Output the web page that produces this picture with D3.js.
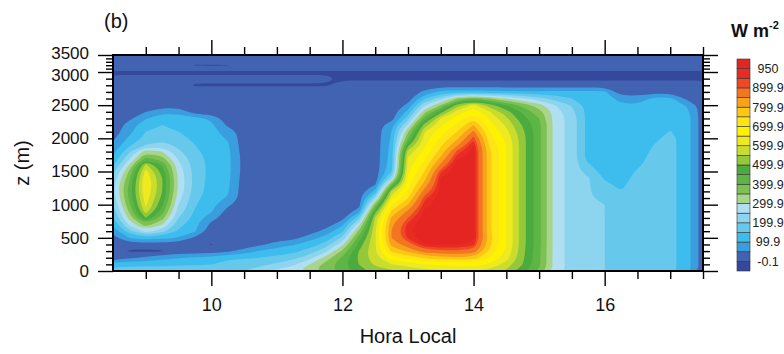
<!DOCTYPE html>
<html>
<head>
<meta charset="utf-8">
<script src="https://cdn.jsdelivr.net/npm/d3@7"></script>
<style>
  html, body { margin: 0; padding: 0; background: #ffffff; }
  svg { display: block; font-family: "Liberation Sans", Arial, Helvetica, sans-serif; }
</style>
</head>
<body>
<svg id="chart" width="784" height="354"></svg>
<script>
// Local time of each grid column (h)
const hours = [8.5, 8.75, 9, 9.25, 9.5, 9.75, 10, 10.25, 10.5, 10.75, 11, 11.25, 11.5, 11.75,
  12, 12.25, 12.5, 12.75, 13, 13.25, 13.5, 13.75, 14, 14.25, 14.5, 14.75, 15, 15.25, 15.5,
  15.75, 16, 16.25, 16.5, 16.75, 17, 17.25, 17.5];

// Height of each grid row (m), top row first
const heights = [3500, 3400, 3300, 3200, 3100, 3000, 2900, 2800, 2700, 2600, 2500, 2400,
  2300, 2200, 2100, 2000, 1900, 1800, 1700, 1600, 1500, 1400, 1300, 1200, 1100, 1000,
  900, 800, 700, 600, 500, 400, 300, 200, 100, 0];

// Flux (W m-2), one row per height, one value per hour
const flux = [
/*3500*/ [20,20,20,20,20,20,20,20,20,20,20,20,20,20,20,20,20,20,20,20,20,20,20,20,20,20,20,20,20,20,20,20,20,20,20,20,20],
/*3400*/ [20,20,20,20,20,20,20,20,20,20,20,20,20,20,20,20,20,20,20,20,20,20,20,20,20,20,20,20,20,20,20,20,20,20,20,20,20],
/*3300*/ [20,20,20,20,20,20,20,20,20,20,20,20,20,20,20,20,20,20,20,20,20,20,20,20,20,20,20,20,20,20,20,20,20,20,20,20,20],
/*3200*/ [20,20,20,20,20,-3,-5,-2,20,20,20,20,20,20,20,20,20,20,20,20,20,20,20,20,20,20,20,20,20,20,20,20,20,20,20,20,20],
/*3100*/ [20,20,20,20,20,20,20,20,20,20,20,20,20,20,20,20,20,20,20,20,20,20,20,20,20,20,20,20,20,20,20,20,20,20,20,20,20],
/*3000*/ [-8,-8,-8,-8,-8,-8,-8,-8,-8,-8,-8,-8,-8,-8,-8,-8,-8,-8,-8,-8,-8,-8,-8,-8,-8,-8,-8,-8,-8,-8,-8,-8,-8,-8,-8,-8,-8],
/*2900*/ [10,10,10,10,10,10,10,10,10,10,10,10,10,10,-8,-8,-8,-8,-8,-8,-8,-8,-8,-8,-8,-8,-8,-8,-8,-8,-8,-8,-8,-8,-8,-8,-8],
/*2800*/ [20,20,20,20,20,-4,-4,-4,-4,-4,-4,-4,-4,-4,20,20,20,20,20,20,20,20,20,20,20,20,20,20,20,20,20,20,20,20,20,20,20],
/*2700*/ [20,20,20,20,20,20,20,20,20,20,20,20,20,20,20,20,20,20,20,60,115,120,120,115,112,110,110,112,112,112,108,20,20,30,30,20,20],
/*2600*/ [20,20,20,20,20,20,20,20,20,20,20,20,20,20,20,20,20,20,25,140,230,350,400,350,300,260,220,180,150,125,125,80,70,112,112,40,20],
/*2500*/ [20,20,20,20,20,20,20,20,20,20,20,20,20,20,20,20,20,20,60,240,350,520,620,520,450,380,320,250,195,130,125,110,105,125,125,95,20],
/*2400*/ [20,20,50,90,85,20,20,20,20,20,20,20,20,20,20,20,20,20,115,330,480,620,680,600,520,440,370,275,215,130,125,125,125,125,125,115,20],
/*2300*/ [20,40,95,125,125,115,90,20,20,20,20,20,20,20,20,20,20,25,180,420,600,670,740,640,560,470,400,275,230,130,125,125,125,125,125,125,20],
/*2200*/ [20,70,140,150,140,125,110,40,20,20,20,20,20,20,20,20,20,80,260,520,640,710,800,670,590,495,415,275,230,130,125,125,125,125,140,125,20],
/*2100*/ [20,85,150,165,150,130,115,80,20,20,20,20,20,20,20,20,20,102,345,595,680,750,860,700,615,510,415,275,230,130,125,125,125,125,152,125,20],
/*2000*/ [40,110,165,185,165,140,120,95,20,20,20,20,20,20,20,20,20,108,400,620,710,790,915,720,635,520,415,275,230,130,125,125,125,140,165,125,20],
/*1900*/ [60,140,200,220,185,150,125,108,20,20,20,20,20,20,20,20,20,115,480,640,740,840,950,740,650,520,415,275,230,130,125,125,125,150,165,125,20],
/*1800*/ [85,190,330,300,210,160,130,112,25,20,20,20,20,20,20,20,20,120,570,660,770,910,960,760,650,520,415,275,230,130,125,125,125,160,165,125,20],
/*1700*/ [105,240,410,370,240,170,135,115,30,20,20,20,20,20,20,20,20,125,605,690,810,945,960,760,650,520,415,275,230,130,125,125,125,172,165,125,20],
/*1600*/ [140,300,560,440,265,175,135,115,30,20,20,20,20,20,20,20,20,130,620,720,860,970,960,760,650,520,415,275,230,155,125,125,142,172,165,125,20],
/*1500*/ [180,360,620,480,280,180,135,115,30,20,20,20,20,20,20,20,20,150,640,750,920,970,960,760,650,520,415,275,230,180,125,125,155,172,165,125,20],
/*1400*/ [210,390,645,500,290,180,132,113,25,20,20,20,20,20,20,20,20,230,660,780,950,970,960,760,650,520,415,275,230,205,145,125,170,172,165,125,20],
/*1300*/ [230,410,650,505,290,180,130,110,22,20,20,20,20,20,20,20,50,400,680,820,955,970,960,760,650,520,415,275,230,205,160,140,170,172,165,125,20],
/*1200*/ [230,420,645,500,285,175,128,106,20,20,20,20,20,20,20,20,115,560,710,870,960,970,960,760,650,520,415,275,230,205,175,150,170,172,165,125,20],
/*1100*/ [220,410,630,485,270,165,122,95,20,20,20,20,20,20,20,20,230,630,750,915,965,970,960,760,650,520,415,275,230,205,190,158,170,172,165,125,20],
/*1000*/ [200,390,610,460,250,155,115,60,20,20,20,20,20,20,20,25,370,700,800,940,970,970,960,760,650,520,415,275,230,205,200,168,170,172,165,125,20],
/*900*/  [170,360,580,420,230,145,105,30,20,20,20,20,20,20,20,70,480,760,860,955,970,970,960,760,650,520,415,275,230,205,200,180,180,172,165,125,20],
/*800*/  [140,320,500,370,200,130,70,20,20,20,20,20,20,20,30,180,560,810,900,965,975,970,960,760,650,520,415,275,230,205,200,190,180,172,165,125,20],
/*700*/  [105,260,380,300,170,115,35,20,20,20,20,20,20,20,90,280,580,840,935,970,975,970,960,760,650,520,415,275,230,205,200,190,180,172,165,125,20],
/*600*/  [70,180,270,220,140,105,20,20,20,20,20,20,20,70,140,360,590,850,945,970,975,970,960,760,650,520,415,275,230,205,200,190,180,172,165,125,20],
/*500*/  [30,100,130,115,95,40,20,20,20,20,20,30,80,120,210,420,595,850,930,965,970,970,960,770,650,520,415,275,230,205,200,190,180,172,165,125,20],
/*400*/  [20,20,20,20,20,20,-3,20,20,40,75,95,125,170,290,470,595,820,880,950,955,955,935,760,650,520,415,275,230,205,200,190,180,172,165,125,20],
/*300*/  [20,-5,-8,-3,20,20,20,40,70,105,120,135,170,240,360,500,590,760,810,880,890,895,880,740,640,515,410,275,230,205,200,190,180,172,165,125,20],
/*200*/  [20,40,60,80,95,105,115,140,145,150,165,185,230,320,410,510,580,680,720,760,780,790,780,700,620,510,410,275,230,205,200,190,180,172,165,125,20],
/*100*/  [135,138,140,140,142,145,148,170,170,185,210,240,300,370,430,500,560,600,620,650,660,670,670,640,580,500,410,275,230,205,200,190,180,172,165,125,20],
/*0*/    [170,172,175,175,178,180,185,195,200,240,265,285,330,380,420,480,520,540,560,580,590,600,600,580,540,470,390,275,230,205,200,190,180,172,165,125,20]
];

// Contour levels (W m-2) and the fill used above each of them
const levels = [-0.1, 49.9, 99.9, 149.9, 199.9, 249.9, 299.9, 349.9, 399.9, 449.9, 499.9,
  549.9, 599.9, 649.9, 699.9, 749.9, 799.9, 849.9, 899.9, 925, 950];
const fills = ["#34499c", "#4163b1", "#3a9ede", "#3dbdee", "#66c9ec", "#8dd4ee", "#afdff0",
  "#a8d48c", "#7cc152", "#5db545", "#4cab3e", "#92c83a", "#cadd2c", "#eeea1f", "#fff200",
  "#fde516", "#fcc813", "#f8a11c", "#f37421", "#ee4824", "#ea2b24", "#e52521"];
const barLabels = ["-0.1", "99.9", "199.9", "299.9", "399.9", "499.9", "599.9", "699.9",
  "799.9", "899.9", "950"];

const hourTicks = [10, 12, 14, 16];
const hourMinor = [9, 9.5, 10.5, 11, 11.5, 12.5, 13, 13.5, 14.5, 15, 15.5, 16.5, 17, 17.5];
const heightTicks = [0, 500, 1000, 1500, 2000, 2500, 3000, 3500];

const svg = d3.select("#chart");
const pLeft = 113, pRight = 703, pTop = 55, pBottom = 271;

const x = d3.scaleLinear().domain([8.5, 17.5]).range([pLeft, pRight]);
const y = d3.scaleLinear().domain([0, 3000, 3500]).range([pBottom, 72, pTop]);

// grid index space -> data space (values sit at cell centres)
const nx = hours.length, ny = heights.length;
const gx = d3.scaleLinear().domain([0.5, nx - 0.5]).range([hours[0], hours[nx - 1]]);
const gy = d3.scaleLinear().domain([0.5, ny - 0.5]).range([heights[0], heights[ny - 1]]);

svg.append("clipPath").attr("id", "plot-clip")
  .append("rect").attr("x", pLeft).attr("y", pTop)
  .attr("width", pRight - pLeft).attr("height", pBottom - pTop);

const field = svg.append("g").attr("clip-path", "url(#plot-clip)");
field.append("rect").attr("x", pLeft).attr("y", pTop)
  .attr("width", pRight - pLeft).attr("height", pBottom - pTop).attr("fill", fills[0]);

const bands = d3.contours().size([nx, ny]).thresholds(levels)(flux.flat());
const ring = d3.line()
  .x(p => x(gx(p[0])))
  .y(p => y(gy(p[1])))
  .curve(d3.curveBasisClosed);

bands.forEach((band, i) => {
  const d = band.coordinates
    .map(poly => poly.map(r => ring(r.slice(0, -1))).join(""))
    .join("");
  if (!d) return;
  field.append("path")
    .attr("d", d)
    .attr("fill", fills[i + 1])
    .attr("fill-rule", "evenodd");
});

// axes: outward ticks on all four sides
function styleAxis(g) {
  g.select(".domain").remove();
  g.selectAll(".tick line").attr("stroke", "#000").attr("stroke-width", 1.4);
  g.selectAll("text").attr("fill", "#111").style("font-size", "18px")
    .style("font-family", "'Liberation Sans', Arial, sans-serif");
}

svg.append("g").attr("transform", `translate(0,${pBottom})`)
  .call(d3.axisBottom(x).tickValues(hourMinor).tickSize(8).tickFormat(""))
  .call(styleAxis);
svg.append("g").attr("transform", `translate(0,${pBottom})`)
  .call(d3.axisBottom(x).tickValues(hourTicks).tickSize(15).tickPadding(12).tickFormat(d3.format("d")))
  .call(styleAxis);
svg.append("g").attr("transform", `translate(0,${pTop})`)
  .call(d3.axisTop(x).tickValues(hourMinor).tickSize(8).tickFormat(""))
  .call(styleAxis);
svg.append("g").attr("transform", `translate(0,${pTop})`)
  .call(d3.axisTop(x).tickValues(hourTicks).tickSize(15).tickFormat(""))
  .call(styleAxis);

const heightMinor = d3.range(100, 3500, 100).filter(v => v % 500 !== 0);
svg.append("g").attr("transform", `translate(${pLeft},0)`)
  .call(d3.axisLeft(y).tickValues(heightMinor).tickSize(7).tickFormat(""))
  .call(styleAxis);
const yAxisG = svg.append("g").attr("transform", `translate(${pLeft},0)`)
  .call(d3.axisLeft(y).tickValues(heightTicks).tickSize(15).tickPadding(9).tickFormat(d3.format("d")))
  .call(styleAxis);
// the two top labels sit close together; keep them apart
yAxisG.selectAll(".tick text")
  .style("font-size", "17px")
  .attr("dy", d => d === 3500 ? "0.2em" : d === 3000 ? "0.47em" : "0.32em");
svg.append("g").attr("transform", `translate(${pRight},0)`)
  .call(d3.axisRight(y).tickValues(heightMinor).tickSize(7).tickFormat(""))
  .call(styleAxis);
svg.append("g").attr("transform", `translate(${pRight},0)`)
  .call(d3.axisRight(y).tickValues(heightTicks).tickSize(15).tickFormat(""))
  .call(styleAxis);

svg.append("rect").attr("x", pLeft).attr("y", pTop)
  .attr("width", pRight - pLeft).attr("height", pBottom - pTop)
  .attr("fill", "none").attr("stroke", "#000").attr("stroke-width", 2);

// titles
svg.append("text").attr("x", 104).attr("y", 28).text("(b)")
  .style("font-size", "20px").attr("fill", "#111");
svg.append("text").attr("x", (pLeft + pRight) / 2).attr("y", 343)
  .attr("text-anchor", "middle").text("Hora Local")
  .style("font-size", "20px").attr("fill", "#111");
svg.append("text").attr("transform", `translate(29,${(pTop + pBottom) / 2}) rotate(-90)`)
  .attr("text-anchor", "middle").text("z (m)")
  .style("font-size", "20px").attr("fill", "#111");

// colour bar
const barX = 737, barW = 13, barTop = 59, barBottom = 271;
const barScale = d3.scaleLinear().domain([0, fills.length]).range([barBottom, barTop]);
const bar = svg.append("g");
bar.selectAll("rect").data(fills).join("rect")
  .attr("x", barX).attr("width", barW)
  .attr("y", (c, i) => barScale(i + 1))
  .attr("height", (c, i) => barScale(i) - barScale(i + 1))
  .attr("fill", c => c)
  .attr("stroke", "#333").attr("stroke-width", 0.6);
bar.selectAll("text").data(barLabels).join("text")
  .attr("x", 768).attr("y", (t, i) => barScale(1 + 2 * i))
  .attr("dy", "0.35em").attr("text-anchor", "middle")
  .style("font-size", "12.5px").attr("fill", "#222").text(t => t);

const unit = svg.append("text").attr("x", 731).attr("y", 37)
  .style("font-size", "18px").style("font-weight", "bold").attr("fill", "#111");
unit.append("tspan").text("W m");
unit.append("tspan").attr("dy", -8).style("font-size", "11px").text("-2");
</script>
</body>
</html>
